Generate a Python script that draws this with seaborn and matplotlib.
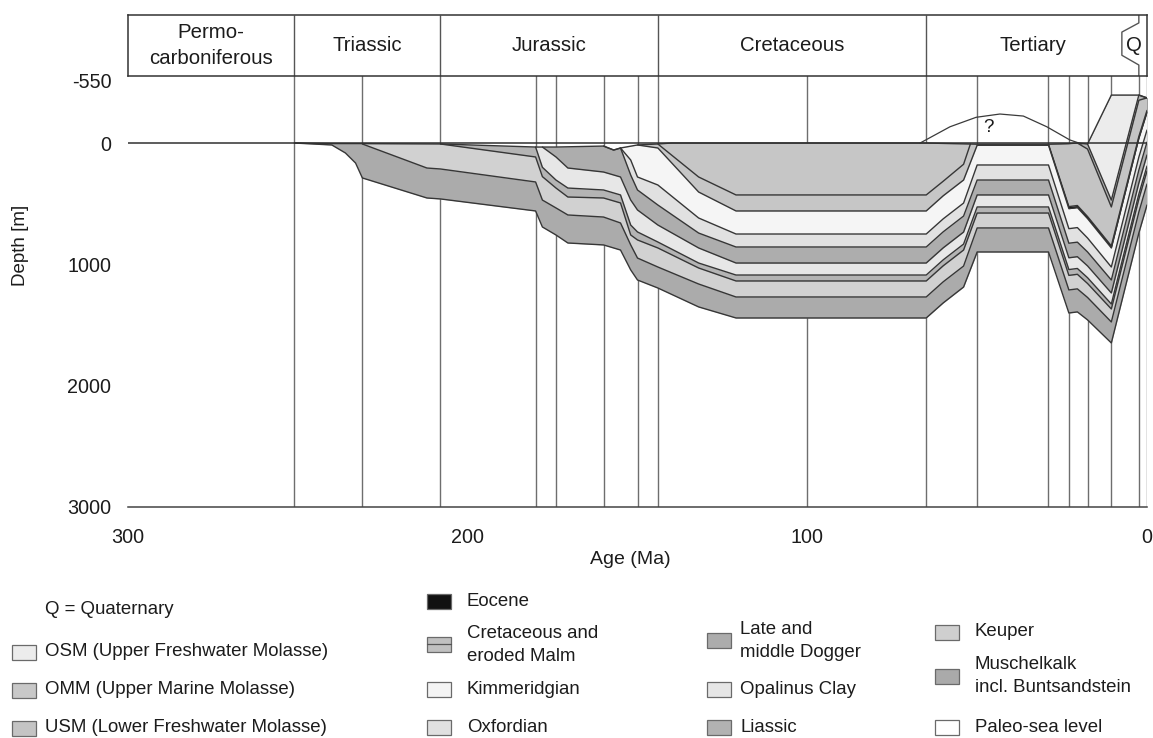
import numpy as np
import seaborn as sns
import matplotlib
matplotlib.use("Agg")
import matplotlib.pyplot as plt
from matplotlib.patches import Rectangle
from matplotlib.lines import Line2D
from matplotlib.ticker import FixedLocator

# ---------------- data: age (Ma) / depth (m), negative = above sea level ----------------
surface_age = [251, 240, 231, 208, 180, 174, 160, 157, 155, 150, 144, 140, 65, 50, 29, 23, 20.5, 17.5, 10.5, 2.4, 0]
surface_depth = [0, 5, 5, 8, 33, 33, 25, 58, 41, 16, 8, 0, 0, 10, 10, 5, 0, 8, -425, -425, -400]

musch_age = [251, 240, 236, 233, 231, 212, 208, 180, 178, 174, 170.5, 160, 155, 152, 150, 144, 132, 121, 65, 60, 54, 50, 29, 23, 20.5, 17.5, 10.5, 2.4, 0]
musch_depth = [0, 16, 82, 165, 288, 453, 461, 560, 692, 758, 824, 840, 882, 1046, 1129, 1195, 1351, 1442, 1442, 1318, 1187, 898, 898, 1401, 1392, 1458, 1648, 742, 511]

keuper_age = [231, 212, 208, 180, 178, 174, 170.5, 160, 155, 152, 150, 144, 132, 121, 65, 60, 54, 50, 29, 23, 20.5, 17.5, 10.5, 2.4, 0]
keuper_depth = [8, 206, 214, 321, 470, 535, 593, 610, 659, 840, 948, 1022, 1162, 1269, 1269, 1144, 1014, 700, 700, 1211, 1202, 1273, 1475, 569, 338]

lias_age = [208, 180, 178, 174, 170.5, 160, 155, 152, 150, 144, 132, 121, 65, 60, 54, 50, 29, 23, 20.5, 17.5, 10.5, 2.4, 0]
lias_depth = [8, 115, 277, 371, 445, 453, 494, 758, 799, 865, 1030, 1137, 1137, 1012, 882, 577, 577, 1091, 1082, 1158, 1368, 462, 231]

opal_age = [180, 178, 174, 170.5, 160, 155, 152, 150, 144, 132, 121, 65, 60, 54, 50, 29, 23, 20.5, 17.5, 10.5, 2.4, 0]
opal_depth = [33, 200, 305, 371, 387, 428, 676, 733, 816, 989, 1088, 1088, 963, 833, 527, 527, 1043, 1034, 1110, 1327, 421, 190]

dogger_age = [178, 174, 170.5, 160, 155, 152, 150, 144, 132, 121, 65, 60, 54, 50, 29, 23, 20.5, 17.5, 10.5, 2.4, 0]
dogger_depth = [33, 115, 206, 239, 280, 470, 552, 676, 865, 989, 989, 864, 734, 428, 428, 946, 937, 1013, 1236, 330, 99]

oxf_age = [160, 157, 155, 152, 150, 144, 132, 121, 65, 60, 54, 50, 29, 23, 20.5, 17.5, 10.5, 2.4, 0]
oxf_depth = [25, 58, 41, 264, 387, 511, 742, 857, 857, 732, 602, 305, 305, 826, 817, 898, 1129, 223, -8]

kimm_age = [155, 152, 150, 144, 132, 121, 65, 60, 54, 50, 29, 23, 20.5, 17.5, 10.5, 2.4, 0]
kimm_depth = [41, 140, 280, 346, 618, 750, 750, 625, 495, 181, 181, 706, 697, 783, 1022, 116, -115]

malm_age = [150, 144, 132, 121, 65, 60, 54, 50]
malm_depth = [16, 41, 404, 560, 560, 435, 305, 18]

cret_age = [144, 132, 121, 65, 60, 54, 52]
cret_depth = [8, 280, 428, 428, 315, 175, 0]

eocene_age = [50, 29, 23, 20.5, 17.5, 10.5, 2.4, 0]
eocene_depth = [18, 18, 541, 532, 623, 865, -41, -272]

usm_age = [29, 23, 20.5, 17.5, 10.5, 2.4, 0]
usm_depth = [10, 524, 515, 606, 848, -58, -289]

omm_age = [20.5, 17.5, 10.5, 2.4, 0]
omm_depth = [0, 50, 527, -379, -610]

osm_age = [17.5, 10.5, 2.4, 0]
osm_depth = [8, 470, -436, -667]

# uncertain paleo-surface ("?")
arc_age = [66.8, 58, 50.3, 43.3, 36.4, 29.5, 22.7, 19.2]
arc_depth = [0, -144, -228, -257, -239, -144, -27, 8]

time_lines = [251, 231, 208, 180, 174, 160, 150, 144, 100, 65, 50, 29, 23, 17.5, 10.5, 2.4, 0]

periods = ["Permo-\ncarboniferous", "Triassic", "Jurassic", "Cretaceous", "Tertiary", "Q"]
period_bounds = [300, 251, 208, 144, 65, 2.4, 0]

legend_col1 = ["OSM (Upper Freshwater Molasse)", "OMM (Upper Marine Molasse)", "USM (Lower Freshwater Molasse)"]
legend_col2 = ["Eocene", "Cretaceous and\neroded Malm", "Kimmeridgian", "Oxfordian"]
legend_col3 = ["Late and\nmiddle Dogger", "Opalinus Clay", "Liassic"]
legend_col4 = ["Keuper", "Muschelkalk\nincl. Buntsandstein", "Paleo-sea level"]

# ---------------- styles ----------------
units = [
    (musch_age, musch_depth, "#ababab"),
    (keuper_age, keuper_depth, "#d1d1d1"),
    (lias_age, lias_depth, "#b4b4b4"),
    (opal_age, opal_depth, "#e7e7e7"),
    (dogger_age, dogger_depth, "#adadad"),
    (oxf_age, oxf_depth, "#e1e1e1"),
    (kimm_age, kimm_depth, "#f5f5f5"),
    (malm_age, malm_depth, "#c6c6c6"),
    (cret_age, cret_depth, "#c6c6c6"),
    (eocene_age, eocene_depth, "#111111"),
    (usm_age, usm_depth, "#c4c4c4"),
    (omm_age, omm_depth, "#b6b6b6"),
    (osm_age, osm_depth, "#ececec"),
]
col1_colors = ["#ececec", "#c8c8c8", "#c4c4c4"]
col2_colors = ["#111111", "#c0c0c0", "#f4f4f4", "#e0e0e0"]
col3_colors = ["#acacac", "#e6e6e6", "#b2b2b2"]
col4_colors = ["#cfcfcf", "#aaaaaa", "#ffffff"]

LINE = "#363636"
TXT = "#1c1c1c"

sns.set_style("white")
plt.rcParams["font.family"] = ["Liberation Sans", "DejaVu Sans"]
plt.rcParams["axes.unicode_minus"] = False

W, H = 1153, 738
fig = plt.figure(figsize=(W / 100, H / 100), dpi=100)
ax = fig.add_axes([128 / W, 1 - 507 / H, 1019 / W, 431 / H])
ax_h = fig.add_axes([128 / W, 1 - 76 / H, 1019 / W, 61 / H])

# depth axis: the part above sea level is slightly compressed
def fwd(d):
    d = np.asarray(d, dtype=float)
    return np.where(d < 0, d * 0.93, d)

def inv(s):
    s = np.asarray(s, dtype=float)
    return np.where(s < 0, s / 0.93, s)

ax.set_yscale("function", functions=(fwd, inv))

s_age = np.array(surface_age[::-1], float)
s_dep = np.array(surface_depth[::-1], float)

def clipped(ages, depths):
    a = np.array(ages[::-1], float)
    d = np.array(depths[::-1], float)
    extra = s_age[(s_age > a[0]) & (s_age < a[-1])]
    grid = np.unique(np.concatenate([a, extra]))
    base = np.interp(grid, a, d)
    top = np.interp(grid, s_age, s_dep)
    return grid, np.maximum(base, top), top

# time lines
ax.vlines(time_lines, -600, 3000, color="#6e6e6e", lw=1.0, zorder=1)

# layers, oldest first, each filled from its base up to the surface
for ages, depths, col in units:
    g, b, t = clipped(ages, depths)
    ax.fill_between(g, b, t, color=col, lw=0, zorder=2)
for ages, depths, col in units:
    g, b, t = clipped(ages, depths)
    sns.lineplot(x=g, y=b, ax=ax, color=LINE, linewidth=1.0, estimator=None,
                 sort=False, legend=False, zorder=3)
sns.lineplot(x=s_age, y=s_dep, ax=ax, color=LINE, linewidth=1.0, estimator=None,
             sort=False, legend=False, zorder=3)

ax.axhline(0, color="#303030", lw=1.1, zorder=4)
sns.lineplot(x=arc_age, y=arc_depth, ax=ax, color="#3a3a3a", linewidth=0.9,
             estimator=None, sort=False, legend=False, zorder=3)
ax.text(46.8, -135, "?", fontsize=13.5, ha="center", va="center", color=TXT)

ax.set_xlim(300, 0)
ax.set_ylim(3000, -594)
ax.set_xticks([300, 200, 100, 0])
ax.set_xticklabels(["300", "200", "100", "0"])
ax.xaxis.set_minor_locator(FixedLocator(list(range(20, 300, 20))))
ax.set_yticks([-550, 0, 1000, 2000, 3000])
ax.set_yticklabels(["-550", "0", "1000", "2000", "3000"])
ax.yaxis.set_minor_locator(FixedLocator([-440, -330, -220, -110] + [v for v in range(100, 3000, 100) if v % 1000]))
ax.tick_params(which="major", length=8, width=1, color="#555555", labelsize=14.2,
               labelcolor=TXT, pad=4)
ax.tick_params(which="minor", length=5, width=1, color="#555555")
ax.tick_params(axis="x", which="major", pad=7)
sns.despine(ax=ax, left=True, top=True, right=True)
ax.spines["bottom"].set_color("#444444")
ax.spines["bottom"].set_linewidth(1.1)

ax.set_ylabel("Depth [m]", fontsize=13.5, color=TXT)
ax.yaxis.set_label_coords(-0.097, 0.608)
ax.set_xlabel("Age (Ma)", fontsize=14, color=TXT)
ax.xaxis.set_label_coords(0.4926, -0.102)

# period header
ax_h.set_xlim(300, 0)
ax_h.set_ylim(0, 1)
ax_h.set_xticks([])
ax_h.set_yticks([])
for sp in ax_h.spines.values():
    sp.set_color("#333333")
    sp.set_linewidth(1.1)
ax_h.vlines(period_bounds[1:5], 0, 1, color="#555555", lw=1.0)
ax_h.plot([2.4, 2.4, 7.4, 7.4, 2.4, 2.4], [1, 0.87, 0.72, 0.34, 0.18, 0], color="#555555", lw=1.0)
for i, name in enumerate(periods):
    lo, hi = period_bounds[i], period_bounds[i + 1]
    if name == "Q":
        lo = 7.4
    ax_h.text((lo + hi) / 2, 0.5, name, ha="center", va="center", fontsize=14.7,
              color=TXT, linespacing=1.4)

# legend
def legend_item(px, py, color, split=False):
    x0, y0 = px / W, 1 - (py + 7.5) / H
    w, h = 24 / W, 15 / H
    fig.add_artist(Rectangle((x0, y0), w, h, transform=fig.transFigure,
                             facecolor=color, edgecolor="#6a6a6a", lw=0.9))
    if split:
        fig.add_artist(Line2D([x0, x0 + w], [y0 + h / 2] * 2, transform=fig.transFigure,
                              color="#555555", lw=0.9))

def legend_text(px, py, label):
    fig.text(px / W, 1 - py / H, label, ha="left", va="center", fontsize=13.4,
             color=TXT, linespacing=1.4)

fig.text(45 / W, 1 - 609 / H, "Q = Quaternary", ha="left", va="center", fontsize=13.4, color=TXT)
for lab, col, y in zip(legend_col1, col1_colors, [652, 690, 728]):
    legend_item(12, y, col)
    legend_text(45, y, lab)
for lab, col, (yp, yt) in zip(legend_col2, col2_colors, [(601, 601), (644, 645), (689, 689), (727, 727)]):
    legend_item(427, yp, col, split=lab.startswith("Cretaceous"))
    legend_text(467, yt, lab)
for lab, col, (yp, yt) in zip(legend_col3, col3_colors, [(640, 641), (689, 689), (727, 727)]):
    legend_item(707, yp, col)
    legend_text(740, yt, lab)
for lab, col, (yp, yt) in zip(legend_col4, col4_colors, [(632, 632), (676, 676), (727, 727)]):
    legend_item(935, yp, col)
    legend_text(975, yt, lab)

fig.savefig("out.png", dpi=100, facecolor="white")
